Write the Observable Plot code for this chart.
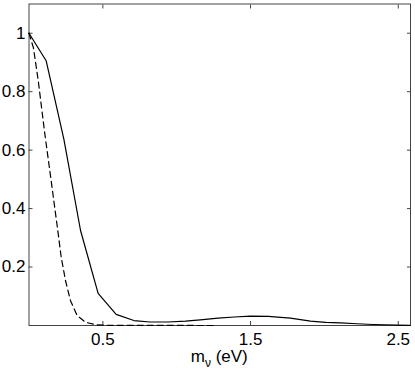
<!DOCTYPE html>
<html>
<head>
<meta charset="utf-8">
<script src="https://cdn.jsdelivr.net/npm/d3@7"></script>
<script src="https://cdn.jsdelivr.net/npm/@observablehq/plot@0.6"></script>
<style>
  html, body { margin: 0; padding: 0; background: #fff; }
  #chart { width: 415px; height: 374px; }
</style>
</head>
<body>
<div id="chart"></div>
<script>
// Solid curve
const solidX = [0, 0.116, 0.236, 0.349, 0.468, 0.59, 0.71, 0.82, 0.94, 1.06, 1.16, 1.28, 1.39, 1.5, 1.62, 1.77, 1.906, 2.01, 2.11, 2.22, 2.33, 2.49, 2.58];
const solidY = [1, 0.906, 0.638, 0.325, 0.11, 0.038, 0.017, 0.012, 0.012, 0.015, 0.019, 0.025, 0.029, 0.032, 0.031, 0.025, 0.015, 0.011, 0.009, 0.006, 0.0034, 0.001, 0.0005];
// Dashed curve
const dashX = [0, 0.03, 0.062, 0.107, 0.15, 0.168, 0.195, 0.218, 0.247, 0.281, 0.326, 0.383, 0.46, 0.55, 1.26];
const dashY = [1, 0.95, 0.84, 0.656, 0.496, 0.427, 0.325, 0.234, 0.154, 0.085, 0.034, 0.011, 0.002, 0.0005, 0];
const xTicks = [0.5, 1.5, 2.5];
const yTicks = [0.2, 0.4, 0.6, 0.8, 1];

const solid = solidX.map((x, i) => ({x, y: solidY[i]}));
const dashed = dashX.map((x, i) => ({x, y: dashY[i]}));

const font = "'Liberation Sans', Arial, Helvetica, sans-serif";
const frameColor = "#444";

const plot = Plot.plot({
  width: 415,
  height: 374,
  marginLeft: 28.5,
  marginRight: 5,
  marginTop: 3.5,
  marginBottom: 49,
  style: {fontFamily: font, fontSize: "17px", background: "#fff", color: "#000"},
  x: {domain: [0, 2.583]},
  y: {domain: [0, 1.1]},
  marks: [
    Plot.frame({stroke: frameColor, strokeWidth: 1}),
    // inward ticks
    Plot.axisX(xTicks, {anchor: "bottom", tickSize: -4, text: null, label: null, stroke: frameColor}),
    Plot.axisX(xTicks, {anchor: "top", tickSize: -4, text: null, label: null, stroke: frameColor}),
    Plot.axisY(yTicks, {anchor: "left", tickSize: -4, text: null, label: null, stroke: frameColor}),
    Plot.axisY(yTicks, {anchor: "right", tickSize: -4, text: null, label: null, stroke: frameColor}),
    // labels
    Plot.axisX(xTicks, {anchor: "bottom", tickSize: 0, tickPadding: 7, label: null, fill: "#000", fontSize: 17, tickFormat: d => String(d)}),
    Plot.axisY(yTicks, {anchor: "left", tickSize: 0, tickPadding: 3.5, label: null, fill: "#000", fontSize: 17, tickFormat: d => String(d)}),
    Plot.line(solid, {x: "x", y: "y", stroke: "#000", strokeWidth: 1.2}),
    Plot.line(dashed, {x: "x", y: "y", stroke: "#000", strokeWidth: 1.2, strokeDasharray: "6,4"})
  ]
});

document.getElementById("chart").appendChild(plot);

// x-axis title with subscript
const xr = plot.scale("x").range;
const svg = d3.select(plot);
const t = svg.append("text")
  .attr("x", (xr[0] + xr[1]) / 2)
  .attr("y", 362)
  .attr("text-anchor", "middle")
  .attr("font-family", font)
  .attr("font-size", 17)
  .attr("fill", "#000");
t.append("tspan").text("m");
t.append("tspan").attr("dy", 5).attr("font-size", 12).text("ν");
t.append("tspan").attr("dy", -5).text(" (eV)");
</script>
</body>
</html>
